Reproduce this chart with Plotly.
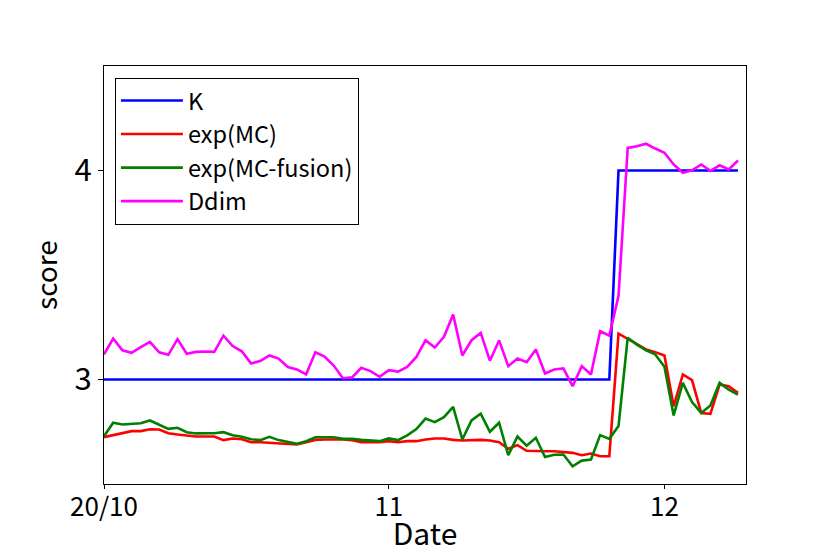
import pandas as pd
import plotly.graph_objects as go

_FONT = "Noto Sans CJK JP"

# daily scores, 2020-10-01 .. 2020-12-09
dates = pd.date_range("2020-10-01", periods=70, freq="D")

k_score = [3] * 56 + [4] * 14

exp_mc = [
    2.724, 2.733, 2.745, 2.753, 2.753, 2.762, 2.761, 2.743, 2.737, 2.733,
    2.727, 2.727, 2.727, 2.710, 2.718, 2.714, 2.700, 2.700, 2.697, 2.697,
    2.694, 2.689, 2.700, 2.711, 2.713, 2.714, 2.713, 2.710, 2.700, 2.700,
    2.700, 2.705, 2.700, 2.705, 2.705, 2.713, 2.718, 2.718, 2.711, 2.708,
    2.710, 2.711, 2.708, 2.700, 2.668, 2.686, 2.659, 2.657, 2.657, 2.657,
    2.654, 2.649, 2.638, 2.646, 2.633, 2.633, 3.219, 3.195, 3.171, 3.144,
    3.131, 3.115, 2.872, 3.024, 2.997, 2.840, 2.836, 2.976, 2.968, 2.936,
]

exp_mc_fusion = [
    2.729, 2.793, 2.785, 2.788, 2.791, 2.804, 2.785, 2.764, 2.769, 2.748,
    2.742, 2.742, 2.743, 2.748, 2.733, 2.726, 2.714, 2.710, 2.726, 2.710,
    2.700, 2.692, 2.705, 2.724, 2.724, 2.724, 2.716, 2.716, 2.711, 2.708,
    2.705, 2.718, 2.710, 2.733, 2.763, 2.813, 2.796, 2.820, 2.869, 2.713,
    2.804, 2.836, 2.750, 2.793, 2.638, 2.727, 2.683, 2.721, 2.629, 2.640,
    2.641, 2.585, 2.612, 2.617, 2.734, 2.716, 2.777, 3.200, 3.167, 3.140,
    3.120, 3.061, 2.828, 2.984, 2.892, 2.840, 2.876, 2.984, 2.952, 2.928,
]

ddim = [
    3.120, 3.196, 3.140, 3.128, 3.155, 3.180, 3.130, 3.118, 3.193, 3.123,
    3.132, 3.134, 3.132, 3.210, 3.160, 3.135, 3.077, 3.088, 3.115, 3.100,
    3.060, 3.048, 3.024, 3.130, 3.110, 3.067, 3.006, 3.010, 3.056, 3.040,
    3.013, 3.045, 3.038, 3.060, 3.108, 3.188, 3.153, 3.204, 3.311, 3.115,
    3.188, 3.223, 3.090, 3.187, 3.064, 3.100, 3.083, 3.144, 3.029, 3.048,
    3.053, 2.968, 3.064, 3.024, 3.231, 3.210, 3.400, 4.108, 4.116, 4.128,
    4.105, 4.085, 4.029, 3.989, 4.001, 4.029, 3.998, 4.025, 4.005, 4.048,
]

x_tick_vals = ["2020-10-01", "2020-11-01", "2020-12-01"]
x_tick_text = ["20/10", "11", "12"]

fig = go.Figure()
for name, vals, colour in [
    ("K",               k_score,       "#0000ff"),
    ("exp(MC)",         exp_mc,        "#ff0000"),
    ("exp(MC-fusion)",  exp_mc_fusion, "#008000"),
    ("Ddim",            ddim,          "#ff00ff"),
]:
    fig.add_trace(go.Scatter(
        x=dates,
        y=vals,
        mode="lines",
        line=dict(color=colour, width=2.6),
        name=name,
        legendgroup=name,
    ))

# page body adds an 8px margin, so the figure is 8px smaller than the window
fig.update_layout(
    width=822,
    height=546,
    plot_bgcolor="white",
    paper_bgcolor="white",
    font=dict(family=_FONT, color="black"),
    margin=dict(l=96, r=84, t=58, b=70),
    showlegend=True,
    legend=dict(
        x=0.017, y=0.972, xanchor="left", yanchor="top",
        bordercolor="black", borderwidth=1,
        font=dict(size=23.5, family=_FONT),
        tracegroupgap=0,
        traceorder="grouped",
        itemwidth=62,
    ),
)
fig.update_xaxes(
    range=["2020-10-01", "2020-12-09 21:00"],
    tickvals=x_tick_vals,
    ticktext=x_tick_text,
    tickfont=dict(size=26),
    ticklabelstandoff=-4,
    ticks="outside", ticklen=4, tickcolor="black",
    showgrid=False, zeroline=False,
    showline=True, linecolor="black", linewidth=1, mirror=True,
    automargin=False,
    title=dict(text="Date", font=dict(size=30), standoff=16),
)
fig.update_yaxes(
    range=[2.5, 4.5],
    tickvals=[3, 4],
    tickfont=dict(size=31),
    ticks="outside", ticklen=5, tickcolor="black",
    showgrid=False, zeroline=False,
    showline=True, linecolor="black", linewidth=1, mirror=True,
    automargin=False,
    title=dict(text="score", font=dict(size=28), standoff=8),
)

fig.write_html("out.html")
